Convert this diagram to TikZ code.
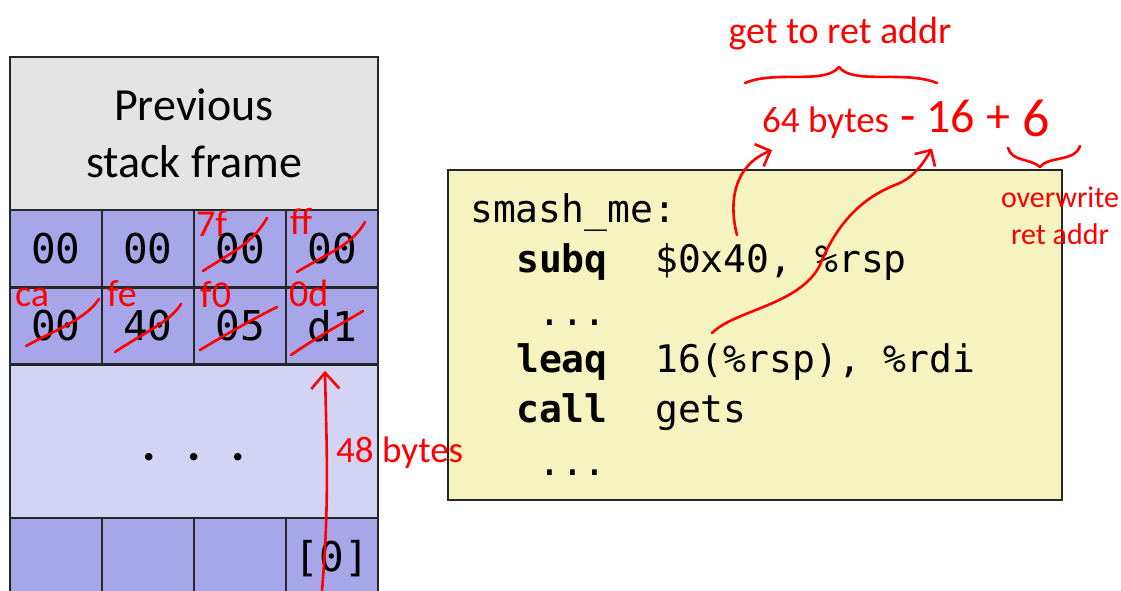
\documentclass[tikz,border=0pt]{standalone}
\usepackage{fontspec}
\setmainfont{Carlito}
\setmonofont{DejaVu Sans Mono}
\usetikzlibrary{arrows.meta}

\definecolor{framegray}{RGB}{228,228,228}
\definecolor{cellblue}{RGB}{166,166,232}
\definecolor{padblue}{RGB}{211,211,243}
\definecolor{codebg}{RGB}{245,244,192}
\definecolor{pen}{RGB}{255,0,0}

\tikzset{
  box/.style={draw=black!85, line width=2.5pt, inner sep=0pt},
  cell/.style={box, fill=cellblue, minimum width=92pt, minimum height=77pt,
    font=\ttfamily\fontsize{41}{41}\selectfont},
  code/.style={anchor=base west, inner sep=0pt, font=\ttfamily\fontsize{38}{38}\selectfont},
  op/.style={code, font=\ttfamily\bfseries\fontsize{38}{38}\selectfont},
  redpen/.style={draw=pen, line width=2.6pt, line cap=round, line join=round},
  note/.style={text=pen, inner sep=0pt, font=\fontsize{#1}{#1}\selectfont},
  note/.default=38,
  barb/.style={-{Straight Barb[length=16pt, width=28pt, line width=2.6pt]}}
}

\begin{document}
\begin{tikzpicture}[x=1pt, y=-1pt]
  \useasboundingbox (0,0) rectangle (1121,591);

  % stack
  \node[box, fill=framegray, minimum width=368pt, minimum height=153pt,
        align=center, font=\fontsize{46}{57}\selectfont] (prev) at (194,133.5)
        {Previous\\stack frame};

  \node[cell] (c11) at (56,248.5) {00};
  \node[cell] (c12) at (148,248.5) {00};
  \node[cell] (c13) at (240,248.5) {00};
  \node[cell] (c14) at (332,248.5) {00};

  \node[cell] (c21) at (56,326) {00};
  \node[cell] (c22) at (148,326) {40};
  \node[cell] (c23) at (240,326) {05};
  \node[cell] (c24) at (332,326) {d1};

  \node[box, fill=padblue, minimum width=368pt, minimum height=153pt] (pad) at (194,441.5) {};
  \node[inner sep=0pt, anchor=base, font=\fontsize{50}{50}\selectfont\bfseries] (dots) at (194,460)
        {.\hspace{0.62em}.\hspace{0.62em}.};

  \node[cell, minimum height=82pt] (b1) at (56,559) {};
  \node[cell, minimum height=82pt] (b2) at (148,559) {};
  \node[cell, minimum height=82pt] (b3) at (240,559) {};
  \node[cell, minimum height=82pt] (b4) at (332,559) {[0]};

  % code
  \node[box, fill=codebg, minimum width=614pt, minimum height=330pt] (smash) at (755,335) {};
  \node[code] (l1) at (470,222) {smash\_me:};
  \node[op] (l2) at (516,272) {subq};
  \node[code] (a2) at (655,272) {\$0x40, \%rsp};
  \node[code] (l3) at (538,325) {...};
  \node[op] (l4) at (516,372) {leaq};
  \node[code] (a4) at (655,372) {16(\%rsp), \%rdi};
  \node[op] (l5) at (516,422) {call};
  \node[code] (a5) at (655,422) {gets};
  \node[code] (l6) at (538,475) {...};

  % new bytes
  \node[note, anchor=base west] (n7f) at (196,236) {7f};
  \node[note, anchor=base west] (nff) at (290,234) {ff};
  \node[note, anchor=base west] (nca) at (15,306) {ca};
  \node[note, anchor=base west] (nfe) at (107,306) {fe};
  \node[note, anchor=base west] (nf0) at (200,307) {f0};
  \node[note, anchor=base west] (n0d) at (289,306) {0d};

  \draw[redpen] (203,271) .. controls (232,252) and (252,244) .. (267,218);
  \draw[redpen] (297,272) .. controls (330,252) and (352,245) .. (365,222);
  \draw[redpen] (26,346) .. controls (55,330) and (85,320) .. (99,299);
  \draw[redpen] (115,352) .. controls (145,332) and (170,322) .. (181,304);
  \draw[redpen] (200,350) .. controls (230,332) and (255,318) .. (277,307);
  \draw[redpen] (291,355) .. controls (320,335) and (345,322) .. (363,311);

  % 48 bytes
  \coordinate (from0) at (322,590);
  \draw[redpen, barb] (from0) .. controls (330,500) and (326,430) .. ([shift={(-7,5)}]c24.south);
  \node[note=37, anchor=base west] (n48) at (336,462) {48 bytes};

  % offset
  \node[note] (getto) at (840,34) {get to ret addr};
  \draw[redpen] (745,83) .. controls (775,70) and (825,85) .. (839,67)
                .. controls (852,85) and (905,70) .. (937,83);

  \node[note=37, anchor=base west] (n64) at (762,132) {64 bytes};
  \node[note=50, anchor=base west] (nminus) at (900,132) {-};
  \node[note=48, anchor=base west] (n16) at (926,132) {16};
  \node[note=48, anchor=base west] (nplus) at (986,132) {+};
  \node[note=54, anchor=base west] (n6) at (1022,136) {6};

  \coordinate (from64) at (737,235);
  \draw[redpen, -{Straight Barb[length=12pt, width=24pt, line width=2.6pt]}]
    (from64) .. controls (728,200) and (735,165) .. ([shift={(10,12)}]n64.south west);

  \coordinate (from16) at (712,333);
  \draw[redpen, -{Straight Barb[length=12pt, width=24pt, line width=2.6pt]}]
    (from16) .. controls (735,310) and (800,305) .. (820,265)
             .. controls (840,215) and (870,195) .. (895,185)
             .. controls (915,178) and (925,160) .. ([shift={(6,16)}]n16.south west);

  \draw[redpen] (1008,148) .. controls (1012,162) and (1030,158) .. (1040,167)
                .. controls (1048,156) and (1075,162) .. (1080,146);
  \node[note=30, align=center, font=\fontsize{30}{37}\selectfont] (ovw) at (1060,216) {overwrite\\ret addr};
\end{tikzpicture}
\end{document}
